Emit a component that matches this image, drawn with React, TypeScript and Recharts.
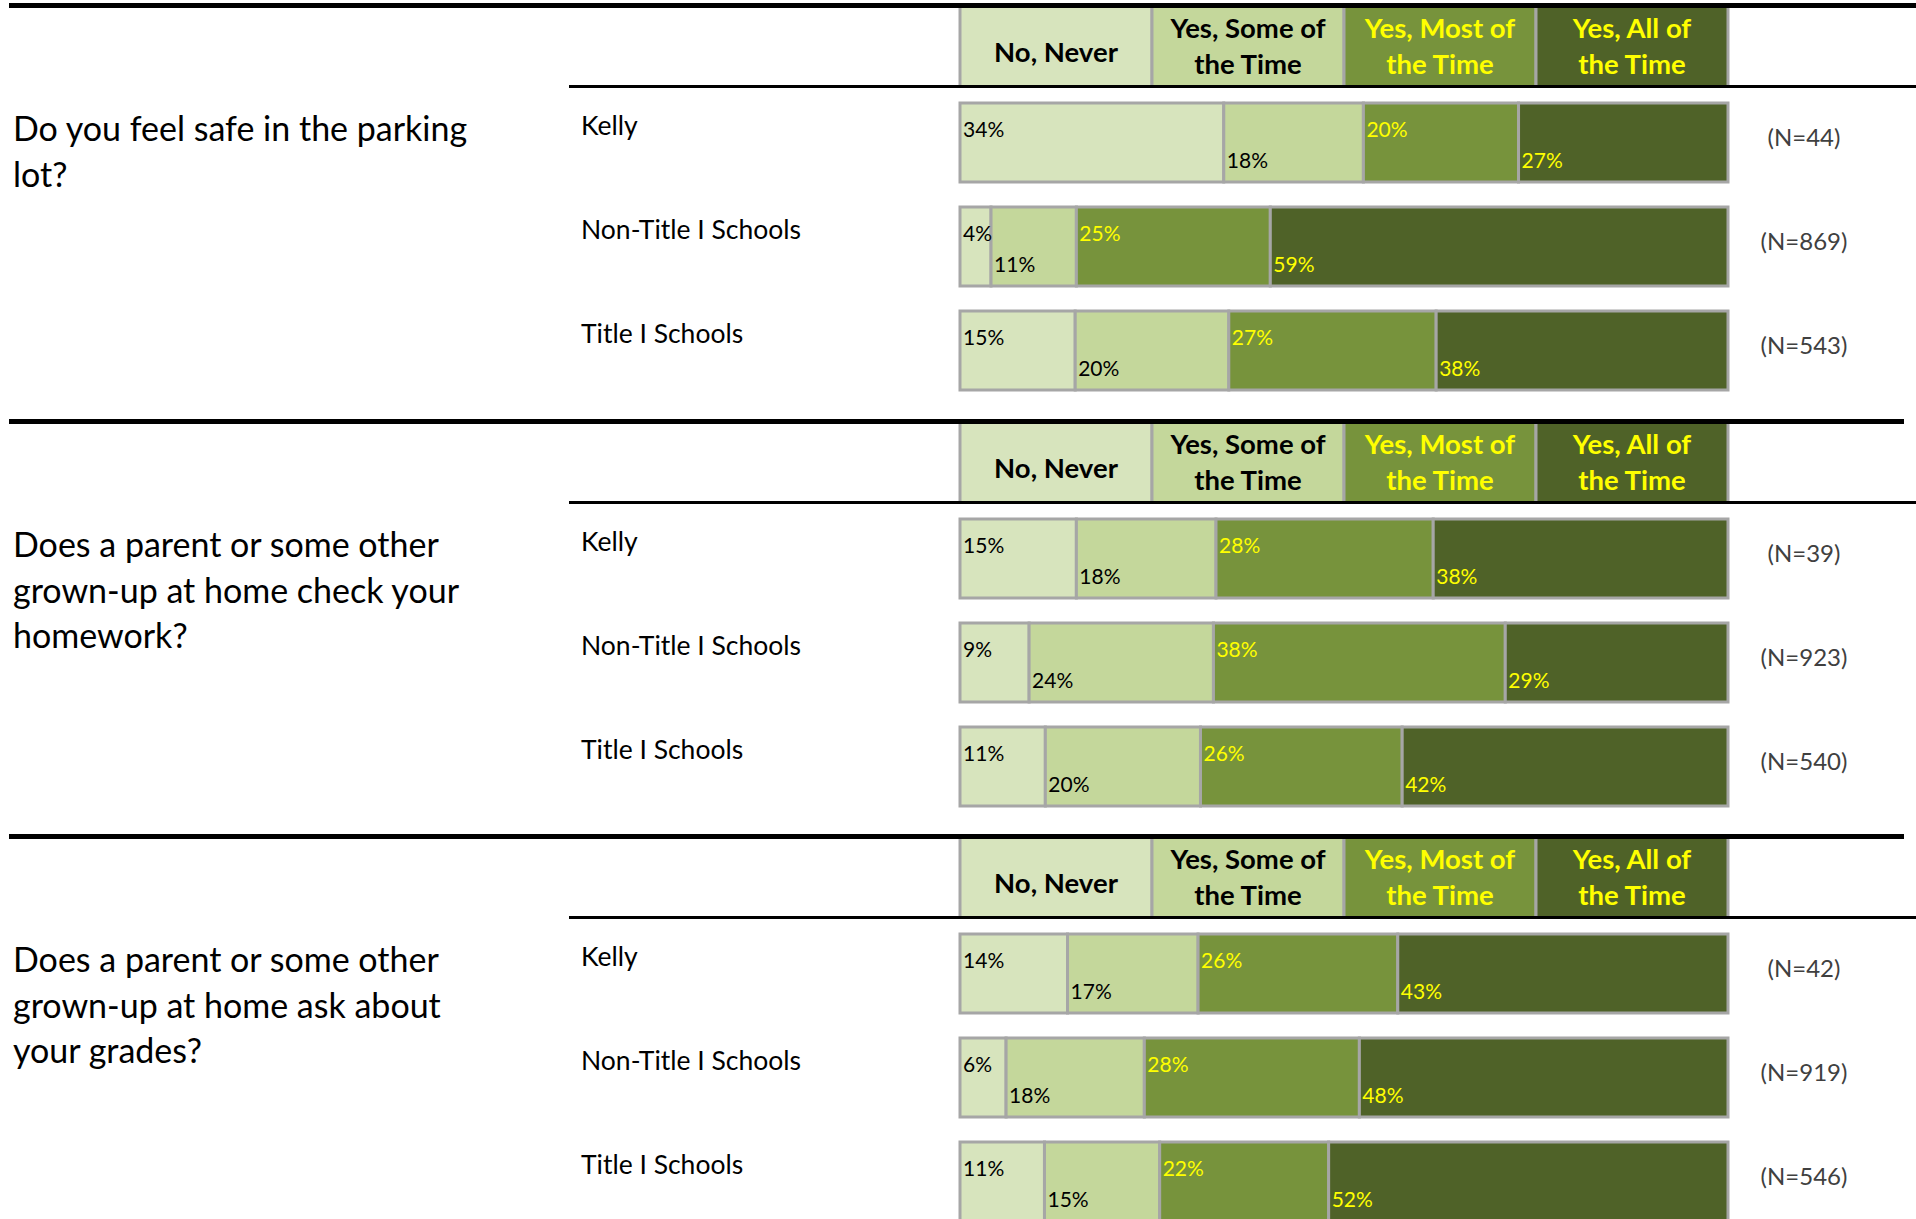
import React from "react";
import { Bar, BarChart, LabelList, XAxis, YAxis } from "recharts";

const groups = ["Kelly", "Non-Title I Schools", "Title I Schools"];
const responses = ["No, Never", "Yes, Some of the Time", "Yes, Most of the Time", "Yes, All of the Time"];
const headerLines = [["No, Never"], ["Yes, Some of", "the Time"], ["Yes, Most of", "the Time"], ["Yes, All of", "the Time"]];
const headerShares = [1, 1, 1, 1];

const parkingQuestion = ["Do you feel safe in the parking", "lot?"];
const parkingValues = [
  [34, 18, 20, 27],
  [4, 11, 25, 59],
  [15, 20, 27, 38]
];
const parkingN = [44, 869, 543];

const homeworkQuestion = ["Does a parent or some other", "grown-up at home check your", "homework?"];
const homeworkValues = [
  [15, 18, 28, 38],
  [9, 24, 38, 29],
  [11, 20, 26, 42]
];
const homeworkN = [39, 923, 540];

const gradesQuestion = ["Does a parent or some other", "grown-up at home ask about", "your grades?"];
const gradesValues = [
  [14, 17, 26, 43],
  [6, 18, 28, 48],
  [11, 15, 22, 52]
];
const gradesN = [42, 919, 546];

const fills = ["#d7e4bd", "#c4d79b", "#77933c", "#4f6228"];
const textColors = ["#000000", "#000000", "#ffff00", "#ffff00"];
const keys = ["r0", "r1", "r2", "r3"];
const FONT = "Lato, sans-serif";

const pctLabel = (series: number) => (props: any) => {
  const vb = props.viewBox ?? props;
  const x = vb.x ?? props.x;
  const y = vb.y ?? props.y;
  const dy = series % 2 === 0 ? 33.5 : 65;
  return (
    <text x={x + 3} y={y + dy} fontSize={21} fill={textColors[series]} fontFamily={FONT}>
      {props.value}%
    </text>
  );
};

const headerShape = (idx: number) => (props: any) => {
  const { x, y, width, height } = props;
  const lines = headerLines[idx];
  const cx = x + width / 2;
  const baselines = lines.length === 1 ? [53.5] : [29.5, 65.5];
  return (
    <g>
      <rect x={x} y={y} width={width} height={height} fill={fills[idx]} />
      <line x1={x} x2={x} y1={y} y2={y + height} stroke="#a6a6a6" strokeWidth={3} />
      <line x1={x + width} x2={x + width} y1={y} y2={y + height} stroke="#a6a6a6" strokeWidth={3} />
      {lines.map((t, i) => (
        <text key={i} x={cx} y={y + baselines[i]} textAnchor="middle" fontSize={27.5} fontWeight={700}
          fill={textColors[idx]} fontFamily={FONT}>
          {t}
        </text>
      ))}
    </g>
  );
};

const GroupTick = (props: any) => (
  <text x={581} y={props.y - 7} fontSize={26.5} fill="#000" fontFamily={FONT}>
    {props.payload.value}
  </text>
);

const NTick = (props: any) => (
  <text x={1804} y={props.y + 4} textAnchor="middle" fontSize={24} fill="#404040" fontFamily={FONT}>
    {props.payload.value}
  </text>
);

function Section({ top, lineEnd, question, values, ns }: any) {
  const rows = groups.map((g, i) => ({
    group: g,
    nLabel: `(N=${ns[i]})`,
    r0: values[i][0],
    r1: values[i][1],
    r2: values[i][2],
    r3: values[i][3]
  }));
  const headerRow = [{ name: "header", h0: headerShares[0], h1: headerShares[1], h2: headerShares[2], h3: headerShares[3] }];

  return (
    <>
      <div style={{ position: "absolute", left: 13, top: top + 102, fontSize: 34, lineHeight: "45.5px", fontFamily: FONT, whiteSpace: "nowrap", color: "#000" }}>
        {question.map((l: string, i: number) => (
          <div key={i}>{l}</div>
        ))}
      </div>

      <div style={{ position: "absolute", left: 0, top: top + 5 }}>
        <BarChart width={1916} height={77} data={headerRow} layout="vertical" margin={{ top: 0, right: 188, bottom: 0, left: 960 }} barCategoryGap={0} barGap={0}>
          <XAxis type="number" hide domain={[0, 4]} />
          <YAxis type="category" dataKey="name" hide width={0} />
          {responses.map((r, i) => (
            <Bar key={r} name={r} dataKey={`h${i}`} stackId="h" isAnimationActive={false} shape={headerShape(i)} />
          ))}
        </BarChart>
      </div>

      <div style={{ position: "absolute", left: 9, top: top, width: lineEnd - 9, height: 5, background: "#000" }} />
      <div style={{ position: "absolute", left: 569, top: top + 82, width: 1916 - 569, height: 3, background: "#000" }} />

      <div style={{ position: "absolute", left: 0, top: top + 87 }}>
        <BarChart width={1916} height={312} data={rows} layout="vertical" stackOffset="expand" margin={{ top: 0, right: 0, bottom: 0, left: 0 }}>
          <XAxis type="number" hide />
          <YAxis yAxisId="left" type="category" dataKey="group" width={960} axisLine={false} tickLine={false} interval={0} tick={<GroupTick />} />
          <YAxis yAxisId="right" orientation="right" type="category" dataKey="nLabel" width={188} axisLine={false} tickLine={false} interval={0} tick={<NTick />} />
          {keys.map((k, i) => (
            <Bar key={k} yAxisId="left" dataKey={k} name={responses[i]} stackId="a" fill={fills[i]} stroke="#a6a6a6" strokeWidth={3} barSize={79} isAnimationActive={false}>
              <LabelList dataKey={k} content={pctLabel(i)} />
            </Bar>
          ))}
        </BarChart>
      </div>
    </>
  );
}

export default function App() {
  return (
    <div style={{ position: "absolute", left: 0, top: 0, width: 1916, height: 1219, overflow: "hidden", background: "#fff" }}>
      <Section top={3} lineEnd={1916} question={parkingQuestion} values={parkingValues} ns={parkingN} />
      <Section top={419} lineEnd={1904} question={homeworkQuestion} values={homeworkValues} ns={homeworkN} />
      <Section top={834} lineEnd={1904} question={gradesQuestion} values={gradesValues} ns={gradesN} />
    </div>
  );
}
